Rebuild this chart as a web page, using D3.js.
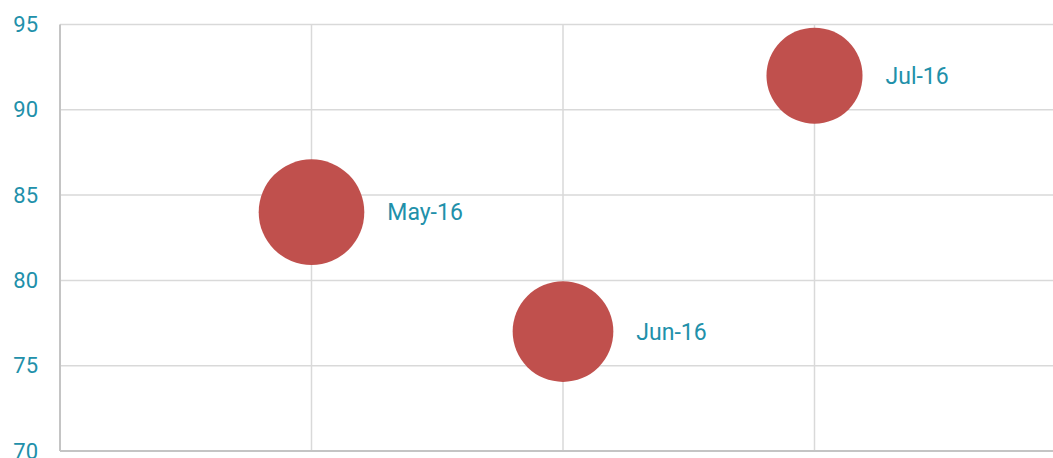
<!DOCTYPE html>
<html>
<head>
<meta charset="utf-8">
<script src="https://cdn.jsdelivr.net/npm/d3@7"></script>
<style>
    html, body { margin: 0; padding: 0; background: #fff; overflow: hidden; }
    svg { display: block; font-family: Roboto, "Noto Sans", sans-serif; }
</style>
</head>
<body>
<svg id="chart"></svg>
<script>
// Data
const months = ['May-16', 'Jun-16', 'Jul-16'];
const xPositions = [1, 2, 3];
const scores = [84, 77, 92];
const bubbleSizes = [110, 100, 91];
const yTicks = [70, 75, 80, 85, 90, 95];

const points = months.map((m, i) => ({ label: m, x: xPositions[i], y: scores[i], size: bubbleSizes[i] }));

const totalWidth = 1053, totalHeight = 458;
const margin = { top: 24.5, right: -13, bottom: 7, left: 60 };
const width = totalWidth - margin.left - margin.right;
const height = totalHeight - margin.top - margin.bottom;

const svg = d3.select('#chart')
    .attr('width', totalWidth)
    .attr('height', totalHeight);

const g = svg.append('g')
    .attr('transform', `translate(${margin.left},${margin.top})`);

const xScale = d3.scaleLinear().domain([0, 4]).range([0, width]);
const yScale = d3.scaleLinear().domain([70, 95]).range([height, 0]);
const rScale = d3.scaleSqrt().domain([0, d3.max(bubbleSizes)]).range([0, 52.8]);

// Horizontal gridlines
g.append('g')
    .selectAll('line')
    .data(yTicks.filter(t => t !== 70))
    .enter()
    .append('line')
    .attr('x1', 0)
    .attr('x2', totalWidth)
    .attr('y1', d => yScale(d))
    .attr('y2', d => yScale(d))
    .attr('stroke', '#d9d9d9')
    .attr('stroke-width', 1.5);

// Vertical gridlines
g.append('g')
    .selectAll('line')
    .data([1, 2, 3])
    .enter()
    .append('line')
    .attr('x1', d => xScale(d))
    .attr('x2', d => xScale(d))
    .attr('y1', 0)
    .attr('y2', height)
    .attr('stroke', '#d9d9d9')
    .attr('stroke-width', 1.5);

// Axis lines
g.append('line')
    .attr('x1', 0).attr('x2', 0)
    .attr('y1', 0).attr('y2', height)
    .attr('stroke', '#c4c4c4')
    .attr('stroke-width', 2);

g.append('line')
    .attr('x1', 0).attr('x2', totalWidth)
    .attr('y1', height).attr('y2', height)
    .attr('stroke', '#c4c4c4')
    .attr('stroke-width', 2);

// Y axis labels
const yAxis = g.append('g')
    .call(d3.axisLeft(yScale).tickValues(yTicks).tickSize(0).tickPadding(22));
yAxis.select('.domain').remove();
yAxis.selectAll('text')
    .attr('fill', '#2190aa')
    .style('font-size', '22px')
    .style('font-family', 'Roboto, sans-serif');

// Bubbles
g.selectAll('.bubble')
    .data(points)
    .enter()
    .append('circle')
    .attr('class', 'bubble')
    .attr('cx', d => xScale(d.x))
    .attr('cy', d => yScale(d.y))
    .attr('r', d => rScale(d.size))
    .attr('fill', '#c0504d');

// Bubble labels
g.selectAll('.bubble-label')
    .data(points)
    .enter()
    .append('text')
    .attr('class', 'bubble-label')
    .attr('x', d => xScale(d.x) + rScale(d.size) + 23)
    .attr('y', d => yScale(d.y))
    .attr('dy', '0.36em')
    .attr('fill', '#2190aa')
    .style('font-size', '23px')
    .text(d => d.label);
</script>
</body>
</html>
